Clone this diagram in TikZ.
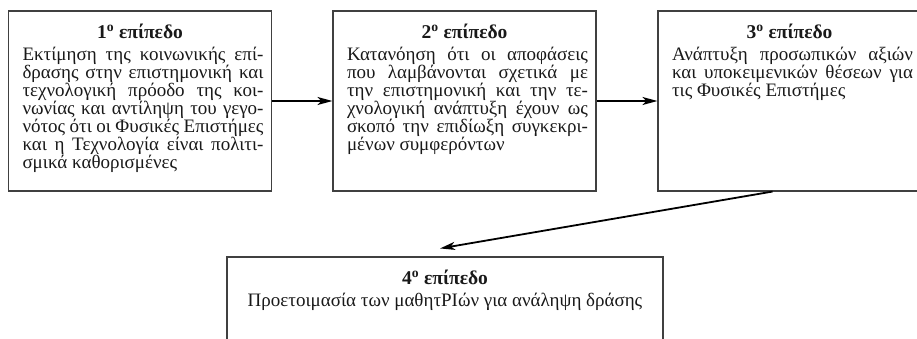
\documentclass[tikz,border=0pt]{standalone}
\usepackage{fontspec}
\setmainfont{Liberation Serif}
\usepackage{tikz}
\usetikzlibrary{arrows.meta, positioning, calc}

\newcommand{\bodyfont}{\fontsize{19}{18}\selectfont\spaceskip=0.25em plus 0.4em minus 0.12em}

\tikzset{
  levelbox/.style={rectangle, draw=black!75, line width=1.1pt, minimum width=263pt, minimum height=180pt, inner sep=0pt},
  leveltitle/.style={font=\fontsize{19.5}{18}\selectfont\bfseries, inner sep=0pt, text height=13pt, text depth=3pt},
  leveltext/.style={font=\bodyfont, text width=241pt, align=justify, inner sep=0pt, xshift=3pt},
  levelarrow/.style={line width=1.8pt, -{Stealth[length=15pt, width=8pt, inset=4pt]}}
}

\begin{document}
\begin{tikzpicture}[x=1pt, y=1pt, node distance=5pt, text=black!90]
\useasboundingbox (0,0) rectangle (917,338);
\clip (0,0) rectangle (917,338);

\node[levelbox] (n1) at (140,237) {};
\node[levelbox] (n2) at (464.5,237) {};
\node[levelbox] (n3) at (789.5,237) {};
\node[levelbox, minimum width=436pt, minimum height=140pt] (n4) at (445,11) {};

\node[leveltitle, below=15pt of n1.north] (t1) {1\textsuperscript{o} επίπεδο};
\node[leveltext, below=of t1] (b1) {Εκτίμηση της κοινωνικής επί-\linebreak δρασης στην επιστημονική και\linebreak τεχνολογική πρόοδο της κοι-\linebreak νωνίας και αντίληψη του γεγο-\linebreak νότος ότι οι Φυσικές Επιστήμες\linebreak και η Τεχνολογία είναι πολιτι-\linebreak σμικά καθορισμένες};

\node[leveltitle, below=15pt of n2.north] (t2) {2\textsuperscript{o} επίπεδο};
\node[leveltext, below=of t2] (b2) {Κατανόηση ότι οι αποφάσεις\linebreak που λαμβάνονται σχετικά με\linebreak την επιστημονική και την τε-\linebreak χνολογική ανάπτυξη έχουν ως\linebreak σκοπό την επιδίωξη συγκεκρι-\linebreak μένων συμφερόντων};

\node[leveltitle, below=15pt of n3.north] (t3) {3\textsuperscript{o} επίπεδο};
\node[leveltext, below=of t3] (b3) {Ανάπτυξη προσωπικών αξιών\linebreak και υποκειμενικών θέσεων για\linebreak τις Φυσικές Επιστήμες};

\node[leveltitle, below=15pt of n4.north] (t4) {4\textsuperscript{o} επίπεδο};
\node[font=\bodyfont, inner sep=0pt, below=of t4] (b4) {Προετοιμασία των μαθητΡΙών για ανάληψη δράσης};

% connectors
\draw[levelarrow] (n1) -- (n2);
\draw[levelarrow] (n2) -- (n3);
\draw[levelarrow] ([xshift=-17pt]n3.south) -- ([xshift=-5pt, yshift=8pt]n4.north);
\end{tikzpicture}
\end{document}
